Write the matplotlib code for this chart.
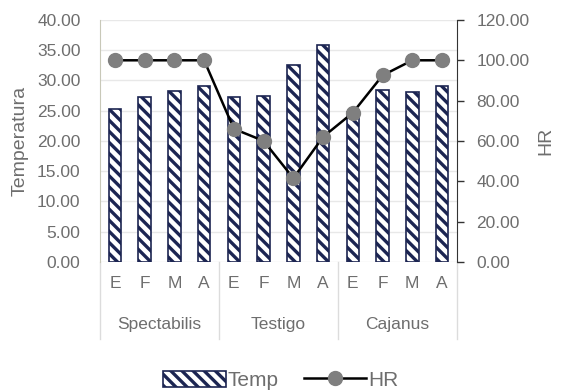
import matplotlib
matplotlib.use("Agg")
import matplotlib.pyplot as plt
from matplotlib import font_manager

months = ["E", "F", "M", "A"]
groups = ["Spectabilis", "Testigo", "Cajanus"]
temp = [25.2, 27.3, 28.2, 29.1, 27.3, 27.5, 32.6, 35.9, 24.8, 28.4, 28.1, 29.1]
hr = [100.0, 100.0, 100.0, 100.0, 66.0, 60.0, 41.5, 62.0, 74.0, 92.5, 100.0, 100.0]
left_ticks = [0, 5, 10, 15, 20, 25, 30, 35, 40]
right_ticks = [0, 20, 40, 60, 80, 100, 120]

names = {f.name for f in font_manager.fontManager.ttflist}
fam = "Liberation Sans Narrow" if "Liberation Sans Narrow" in names else "Liberation Sans"
plt.rcParams["font.family"] = [fam, "DejaVu Sans"]
plt.rcParams["hatch.color"] = "#1c2552"
plt.rcParams["hatch.linewidth"] = 2.4

gray = "#6e6e6e"
fig = plt.figure(figsize=(5.62, 3.92), dpi=100)
ax = fig.add_axes([0.178, 0.332, 0.635, 0.617])
ax2 = ax.twinx()

n = len(temp)
x = list(range(n))
ax.bar(x, temp, width=0.42, color="white", edgecolor="#1c2552", linewidth=1.2,
       hatch="\\\\\\", zorder=2, label="Temp")
ax.set_ylim(0, 40)
ax.set_xlim(-0.5, n - 0.5)
ax.set_yticks(left_ticks)
ax.set_yticklabels([f"{v:.2f}" for v in left_ticks], fontsize=12.5, color=gray)
ax.tick_params(axis="y", length=0, pad=14)
ax.grid(axis="y", color="#e8e8e8", linewidth=1.0, zorder=0)
ax.set_axisbelow(True)
ax.set_ylabel("Temperatura", fontsize=14, color=gray, labelpad=6)
labels = months * len(groups)
ax.set_xticks(x)
ax.set_xticklabels(labels, fontsize=12.5, color=gray)
ax.tick_params(axis="x", length=0, pad=10)
for s in ["top", "right", "bottom"]:
    ax.spines[s].set_visible(False)
ax.spines["left"].set_color("#c8c8b8")

line, = ax2.plot(x, hr, color="black", linewidth=1.8, marker="o", markersize=10,
                 markerfacecolor="#7f7f7f", markeredgecolor="#7f7f7f", zorder=3, label="HR")
ax2.set_ylim(0, 120)
ax2.set_yticks(right_ticks)
ax2.set_yticklabels([f"{v:.2f}" for v in right_ticks], fontsize=12.5, color=gray)
ax2.tick_params(axis="y", length=5, width=1, color="#333333", pad=9)
for s in ["top", "left", "bottom"]:
    ax2.spines[s].set_visible(False)
ax2.spines["right"].set_color("#333333")
ax2.set_ylabel("HR", fontsize=14, color=gray, labelpad=6)

tr = ax.get_xaxis_transform()
k = len(months)
for gi, g in enumerate(groups):
    c = gi * k + (k - 1) / 2
    ax.text(c, -0.26, g, transform=tr, ha="center", va="center", fontsize=12.5, color=gray)
for b in range(len(groups) + 1):
    xb = b * k - 0.5
    ax.plot([xb, xb], [0, -0.32], transform=tr, color="#dcdcdc", linewidth=1, clip_on=False)

h1, l1 = ax.get_legend_handles_labels()
h2, l2 = ax2.get_legend_handles_labels()
fig.legend(h1 + h2, l1 + l2, loc="center", bbox_to_anchor=(0.5, 0.03), ncol=2, frameon=False,
           fontsize=15, labelcolor=gray, handlelength=3.0, handleheight=0.8,
           handletextpad=0.1, columnspacing=1.2)

fig.savefig("out.png", dpi=100)
